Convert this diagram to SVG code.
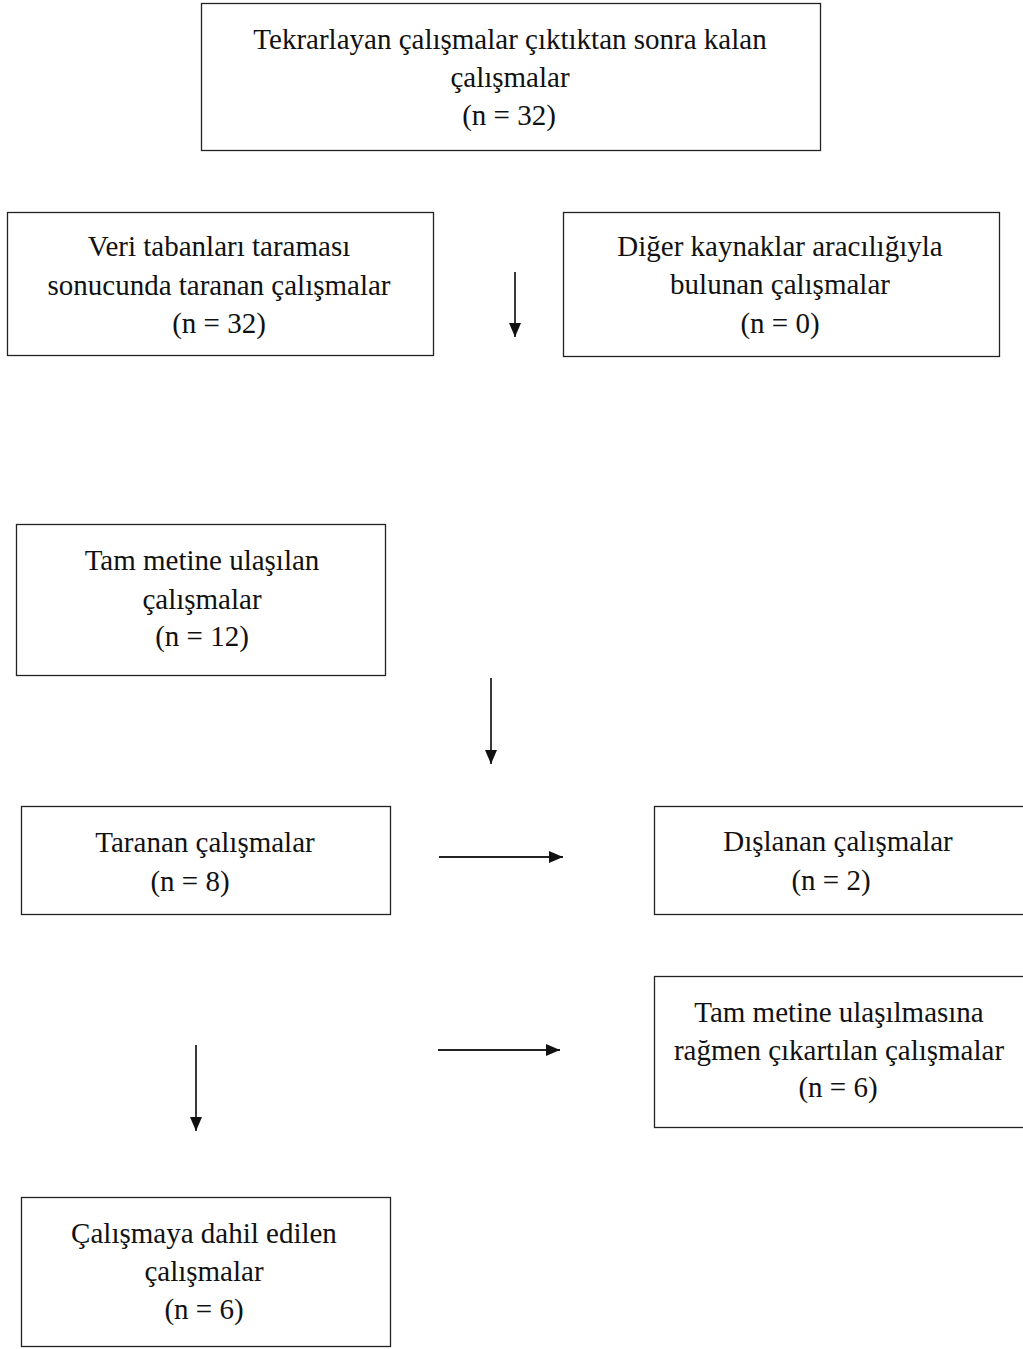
<svg xmlns="http://www.w3.org/2000/svg" width="1023" height="1349" viewBox="0 0 1023 1349">
<style>
.box{fill:#fff;stroke:#222;stroke-width:1.3}
.t{font-family:"Liberation Serif","Times New Roman",serif;font-size:29px;fill:#111;text-anchor:middle}
.c{stroke:#222;stroke-width:1.8;fill:none}
</style>
<defs>
<marker id="ah" viewBox="0 0 14 12" refX="14" refY="6" markerWidth="14" markerHeight="12" markerUnits="userSpaceOnUse" orient="auto">
<path d="M0,0 L14,6 L0,12 z" fill="#111"/>
</marker>
</defs>
<rect width="1023" height="1349" fill="#fff"/>
<g id="n1">
<rect class="box" x="201.5" y="3.5" width="619" height="147"/>
<text class="t" x="510" y="49">Tekrarlayan çalışmalar çıktıktan sonra kalan</text>
<text class="t" x="510" y="87">çalışmalar</text>
<text class="t" x="509" y="125">(n = 32)</text>
</g>
<g id="n2">
<rect class="box" x="7.5" y="212.5" width="426" height="143"/>
<text class="t" x="219" y="256">Veri tabanları taraması</text>
<text class="t" x="219" y="295">sonucunda taranan çalışmalar</text>
<text class="t" x="219" y="333">(n = 32)</text>
</g>
<g id="n3">
<rect class="box" x="563.5" y="212.5" width="436" height="144"/>
<text class="t" x="780" y="256">Diğer kaynaklar aracılığıyla</text>
<text class="t" x="780" y="294">bulunan çalışmalar</text>
<text class="t" x="780" y="333">(n = 0)</text>
</g>
<g id="n4">
<rect class="box" x="16.5" y="524.5" width="369" height="151"/>
<text class="t" x="202" y="570">Tam metine ulaşılan</text>
<text class="t" x="202" y="609">çalışmalar</text>
<text class="t" x="202" y="646">(n = 12)</text>
</g>
<g id="n5">
<rect class="box" x="21.5" y="806.5" width="369" height="108"/>
<text class="t" x="205" y="852">Taranan çalışmalar</text>
<text class="t" x="190" y="891">(n = 8)</text>
</g>
<g id="n6">
<rect class="box" x="654.5" y="806.5" width="380" height="108"/>
<text class="t" x="838" y="851">Dışlanan çalışmalar</text>
<text class="t" x="831" y="890">(n = 2)</text>
</g>
<g id="n7">
<rect class="box" x="654.5" y="976.5" width="380" height="151"/>
<text class="t" x="839" y="1022">Tam metine ulaşılmasına</text>
<text class="t" x="839" y="1060">rağmen çıkartılan çalışmalar</text>
<text class="t" x="838" y="1097">(n = 6)</text>
</g>
<g id="n8">
<rect class="box" x="21.5" y="1197.5" width="369" height="149"/>
<text class="t" x="204" y="1243">Çalışmaya dahil edilen</text>
<text class="t" x="204" y="1281">çalışmalar</text>
<text class="t" x="204" y="1319">(n = 6)</text>
</g>
<g id="connectors">
<line class="c" x1="515" y1="272" x2="515" y2="337" marker-end="url(#ah)"/>
<line class="c" x1="491" y1="678" x2="491" y2="764" marker-end="url(#ah)"/>
<line class="c" x1="439" y1="857" x2="563" y2="857" marker-end="url(#ah)"/>
<line class="c" x1="438" y1="1050" x2="560" y2="1050" marker-end="url(#ah)"/>
<line class="c" x1="196" y1="1045" x2="196" y2="1131" marker-end="url(#ah)"/>
</g>
</svg>
